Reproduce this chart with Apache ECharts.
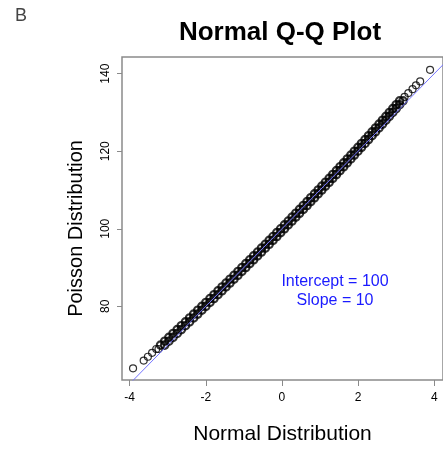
<!DOCTYPE html>
<html lang="en">
<head>
    <meta charset="UTF-8">
    <title>Normal Q-Q Plot</title>
    <script src="https://cdn.jsdelivr.net/npm/echarts@6/dist/echarts.min.js"></script>
    <style>
        html, body { margin: 0; padding: 0; background: #fff; }
        #chart { width: 443px; height: 450px; }
    </style>
</head>
<body>
<div id="chart"></div>
<script>
    // Poisson values in the dense middle of the plot
    var denseLevels = [70, 71, 72, 73, 74, 75, 76, 77, 78, 79, 80, 81, 82, 83, 84, 85, 86, 87, 88, 89,
        90, 91, 92, 93, 94, 95, 96, 97, 98, 99, 100, 101, 102, 103, 104, 105, 106, 107, 108, 109,
        110, 111, 112, 113, 114, 115, 116, 117, 118, 119, 120, 121, 122, 123, 124, 125, 126, 127, 128, 129,
        130, 131, 132, 133];
    // normal quantile where each level ends (first entry = end of level 69)
    var levelEdges = [-3.188, -3.078, -2.969, -2.859, -2.750, -2.642, -2.533, -2.425, -2.318, -2.210,
        -2.103, -1.997, -1.890, -1.784, -1.679, -1.573, -1.468, -1.364, -1.259, -1.155,
        -1.052, -0.948, -0.845, -0.743, -0.640, -0.538, -0.437, -0.335, -0.234, -0.134,
        -0.033, 0.067, 0.166, 0.266, 0.365, 0.463, 0.562, 0.660, 0.757, 0.855,
        0.952, 1.048, 1.145, 1.241, 1.336, 1.432, 1.527, 1.621, 1.716, 1.810,
        1.903, 1.997, 2.090, 2.182, 2.275, 2.367, 2.458, 2.550, 2.641, 2.731,
        2.822, 2.912, 3.001, 3.091, 3.180];
    // lone points in the tails
    var lowTailX = [-3.91, -3.63, -3.52, -3.41, -3.30, -3.24];
    var lowTailY = [64, 66, 67, 68, 69, 69];
    var highTailX = [3.22, 3.32, 3.43, 3.52, 3.63, 3.89];
    var highTailY = [134, 135, 136, 137, 138, 141];

    var xTicks = [-4, -2, 0, 2, 4];
    var yTicks = [80, 100, 120, 140];
    var intercept = 100;
    var slope = 10;

    var tailPoints = [];
    for (var i = 0; i < lowTailX.length; i++) tailPoints.push([lowTailX[i], lowTailY[i]]);
    for (var k = 0; k < highTailX.length; k++) tailPoints.push([highTailX[k], highTailY[k]]);
    var densePoints = [];
    for (var j = 0; j < denseLevels.length; j++) {
        densePoints.push([levelEdges[j], denseLevels[j]]);
        densePoints.push([levelEdges[j + 1], denseLevels[j]]);
    }

    var lineEnds = [-4.5, 4.5].map(function (x) { return [x, intercept + slope * x]; });

    var font = '"Liberation Sans", Arial, sans-serif';
    var boxColor = '#8a8a8a';

    var chart = echarts.init(document.getElementById('chart'));
    chart.setOption({
        animation: false,
        backgroundColor: '#fff',
        textStyle: { fontFamily: font },
        grid: {
            left: 122, top: 57, right: -4, height: 324,
            show: true, borderColor: boxColor, borderWidth: 1.5, backgroundColor: 'transparent'
        },
        xAxis: {
            type: 'value', min: -4.2, max: 4.23,
            name: 'Normal Distribution', nameLocation: 'middle', nameGap: 44,
            nameTextStyle: { fontSize: 21, color: '#000', fontFamily: font },
            axisLine: { show: false, onZero: false },
            splitLine: { show: false },
            axisTick: { show: true, length: 6, customValues: xTicks, lineStyle: { color: boxColor } },
            axisLabel: { customValues: xTicks, fontSize: 12, color: '#000', margin: 12, fontFamily: font }
        },
        yAxis: {
            type: 'value', min: 61, max: 144.3,
            name: 'Poisson Distribution', nameLocation: 'middle', nameGap: 36,
            nameTextStyle: { fontSize: 20, color: '#000', fontFamily: font, padding: [0, 20, 0, 0] },
            axisLine: { show: false, onZero: false },
            splitLine: { show: false },
            axisTick: { show: true, length: 5, customValues: yTicks, lineStyle: { color: boxColor } },
            axisLabel: { customValues: yTicks, rotate: 90, fontSize: 12, color: '#000', margin: 10, fontFamily: font }
        },
        series: [{
            // separate circles in the tails
            type: 'scatter',
            data: tailPoints,
            symbol: 'circle',
            symbolSize: 7,
            itemStyle: { color: 'rgba(0,0,0,0)', borderColor: '#000', borderWidth: 1.2 },
            z: 2
        }, {
            // heavily overplotted middle part
            type: 'scatter',
            data: densePoints,
            symbol: 'circle',
            symbolSize: 7.5,
            itemStyle: { color: 'rgba(0,0,0,0)', borderColor: '#000', borderWidth: 2.1 },
            z: 2
        }, {
            type: 'line',
            data: lineEnds,
            symbol: 'none',
            clip: true,
            lineStyle: { color: '#7474ff', width: 1 },
            z: 3
        }],
        graphic: [{
            type: 'text', left: 15, top: 7,
            style: { text: 'B', font: '18px ' + font, fill: '#444' }
        }, {
            type: 'text', x: 280, y: 33,
            style: { text: 'Normal Q-Q Plot', font: 'bold 26px ' + font, fill: '#000', align: 'center', verticalAlign: 'middle' }
        }, {
            type: 'text', x: 335, y: 282,
            style: { text: 'Intercept = 100', font: '16px ' + font, fill: '#1a1aff', align: 'center', verticalAlign: 'middle' }
        }, {
            type: 'text', x: 335, y: 301,
            style: { text: 'Slope = 10', font: '16px ' + font, fill: '#1a1aff', align: 'center', verticalAlign: 'middle' }
        }]
    });
</script>
</body>
</html>
